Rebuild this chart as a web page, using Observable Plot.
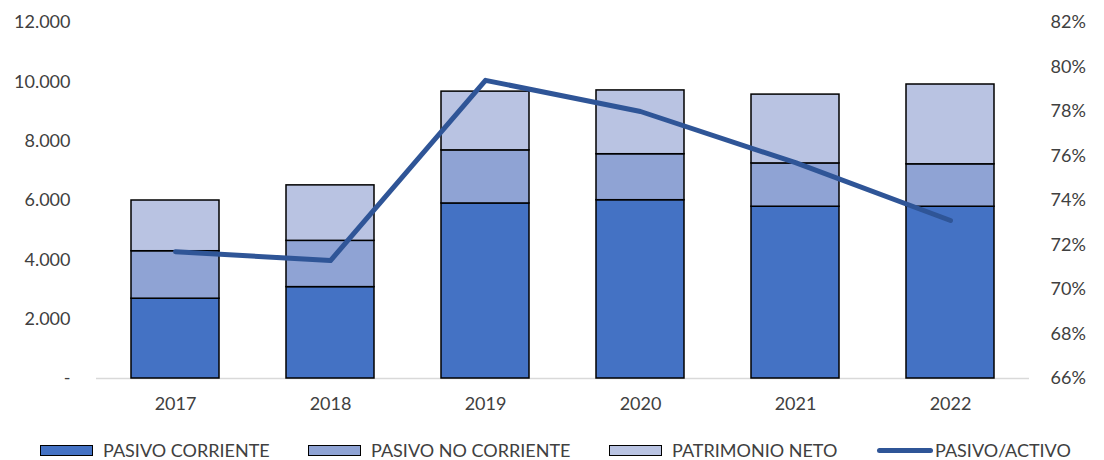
<!DOCTYPE html>
<html>
<head>
<meta charset="utf-8">
<script src="https://cdn.jsdelivr.net/npm/d3@7"></script>
<script src="https://cdn.jsdelivr.net/npm/@observablehq/plot@0.6"></script>
<style>
  body { margin: 0; background: #fff; font-family: Lato, "Open Sans", sans-serif; overflow: hidden; }
  #chart { width: 1104px; }
  .legend { height: 40px; font-size: 18px; color: #404040; position: relative; }
  .item { position: absolute; top: 19px; height: 22px; display: flex; align-items: center; }
  .sw { width: 53px; height: 11px; border: 1.5px solid #000; margin-right: 10px; box-sizing: border-box; }
  .ln { width: 56px; height: 5px; border-radius: 3px; margin-right: 2px; }
</style>
</head>
<body>
<div id="chart"></div>
<script>
const years = ["2017", "2018", "2019", "2020", "2021", "2022"];
const pasivoCorriente = [2690, 3080, 5900, 6010, 5790, 5790];
const pasivoNoCorriente = [1600, 1560, 1790, 1550, 1460, 1430];
const patrimonioNeto = [1710, 1870, 1980, 2150, 2320, 2690];
const pasivoActivo = [71.7, 71.3, 79.4, 78.0, 75.7, 73.1];
const seriesNames = ["PASIVO CORRIENTE", "PASIVO NO CORRIENTE", "PATRIMONIO NETO"];
const seriesColors = ["#4472C4", "#8FA3D4", "#B9C3E2"];
const lineName = "PASIVO/ACTIVO";
const lineColor = "#2F5597";
const leftTicks = [0, 2000, 4000, 6000, 8000, 10000, 12000];
const rightTicks = [66, 68, 70, 72, 74, 76, 78, 80, 82];

const pMin = 66, pMax = 82, yMax = 12000;
const toLeft = p => (p - pMin) / (pMax - pMin) * yMax;

const seriesValues = [pasivoCorriente, pasivoNoCorriente, patrimonioNeto];
const bars = [];
seriesNames.forEach((s, i) => years.forEach((y, j) => bars.push({year: y, series: s, value: seriesValues[i][j]})));
const line = years.map((y, j) => ({year: y, v: toLeft(pasivoActivo[j])}));

const fmtLeft = d => d === 0 ? "-" : d3.format(",")(d).replace(/,/g, ".");

const chart = Plot.plot({
  width: 1104,
  height: 420,
  marginLeft: 96,
  marginRight: 75,
  marginTop: 22,
  marginBottom: 42,
  style: {fontFamily: "Lato, 'Open Sans', sans-serif", fontSize: "18px", color: "#404040", background: "#fff"},
  x: {domain: years, paddingInner: 0.434, paddingOuter: 0.217, label: null},
  y: {domain: [0, yMax], label: null},
  color: {domain: seriesNames, range: seriesColors},
  marks: [
    Plot.ruleY([0], {stroke: "#d9d9d9", strokeWidth: 1.5}),
    Plot.barY(bars, {x: "year", y: "value", fill: "series", stroke: "#000", strokeWidth: 1.5}),
    Plot.line(line, {x: "year", y: "v", stroke: lineColor, strokeWidth: 5, strokeLinecap: "round", strokeLinejoin: "round"}),
    Plot.axisX({tickSize: 0, tickPadding: 19, fontSize: 18, label: null}),
    Plot.axisY({anchor: "left", ticks: leftTicks, tickFormat: fmtLeft, tickSize: 0, tickPadding: 26, fontSize: 18, label: null}),
    Plot.axisY({anchor: "right", ticks: rightTicks.map(toLeft), tickFormat: v => Math.round(v / yMax * (pMax - pMin) + pMin) + "%", tickSize: 0, tickPadding: 21, fontSize: 18, label: null})
  ]
});
document.getElementById("chart").appendChild(chart);

const legend = document.createElement("div");
legend.className = "legend";
const lefts = [40, 308, 609];
seriesNames.forEach((s, i) => {
  const it = document.createElement("div");
  it.className = "item";
  it.style.left = lefts[i] + "px";
  it.innerHTML = `<div class="sw" style="background:${seriesColors[i]}"></div><span>${s}</span>`;
  legend.appendChild(it);
});
const li = document.createElement("div");
li.className = "item";
li.style.left = "877px";
li.innerHTML = `<div class="ln" style="background:${lineColor}"></div><span>${lineName}</span>`;
legend.appendChild(li);
document.getElementById("chart").appendChild(legend);
</script>
</body>
</html>
